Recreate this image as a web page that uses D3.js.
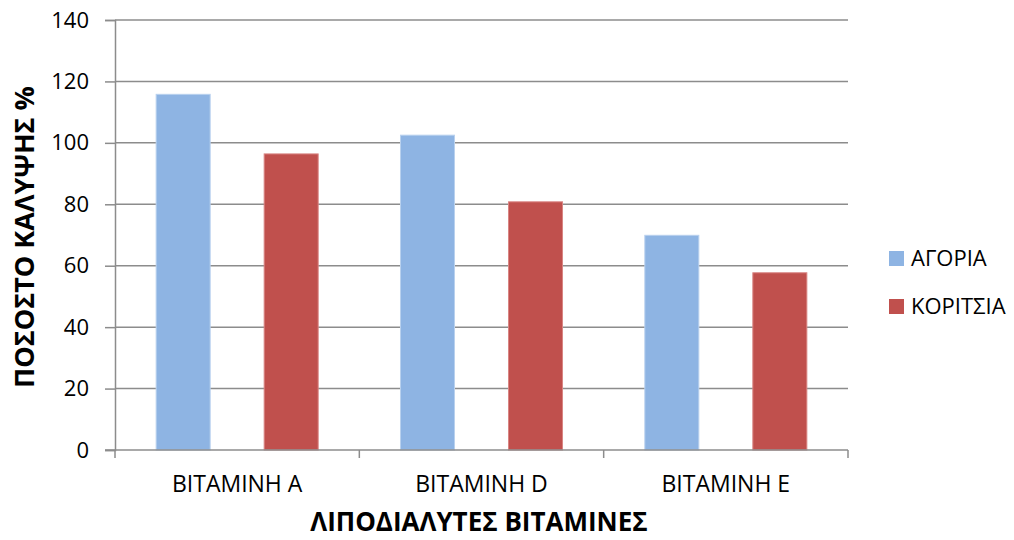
<!DOCTYPE html>
<html>
<head>
<meta charset="utf-8">
<script src="https://cdn.jsdelivr.net/npm/d3@7"></script>
<style>
  html, body { margin: 0; padding: 0; background: #fff; }
  svg text { font-family: "Open Sans", "Noto Sans", sans-serif; fill: #000; }
</style>
</head>
<body>
<svg id="chart" width="1014" height="540"></svg>
<script>
// Vitamin coverage data
const categories = ["ΒΙΤΑΜΙΝΗ Α", "ΒΙΤΑΜΙΝΗ D", "ΒΙΤΑΜΙΝΗ Ε"];
const seriesNames = ["ΑΓΟΡΙΑ", "ΚΟΡΙΤΣΙΑ"];
const boys = [115.8, 102.5, 69.9];
const girls = [96.4, 80.8, 57.7];
const yTicks = [0, 20, 40, 60, 80, 100, 120, 140];
const colors = ["#8EB4E3", "#C0504D"];
const borders = ["#B9D1EE", "#D98583"];

const series = [boys, girls];

const svg = d3.select("#chart");
const plot = { left: 115, right: 848, top: 20, bottom: 450 };

const x = d3.scaleBand().domain(categories).range([plot.left, plot.right]).padding(0);
const xInner = d3.scaleBand().domain(seriesNames).range([0, x.bandwidth()])
  .paddingInner(0.5).paddingOuter(0.381);
const y = d3.scaleLinear().domain([0, 140]).range([plot.bottom, plot.top]);

// horizontal gridlines
svg.append("g").selectAll("line").data(yTicks.filter(d => d > 0)).join("line")
  .attr("x1", plot.left).attr("x2", plot.right)
  .attr("y1", d => y(d)).attr("y2", d => y(d))
  .attr("stroke", "#8c8c8c").attr("stroke-width", 1.5);

// bars
const groups = svg.append("g").selectAll("g").data(seriesNames).join("g");
groups.each(function(name, si) {
  d3.select(this).selectAll("rect").data(series[si]).join("rect")
    .attr("x", (d, i) => x(categories[i]) + xInner(name))
    .attr("width", xInner.bandwidth())
    .attr("y", d => y(d))
    .attr("height", d => y(0) - y(d))
    .attr("fill", colors[si])
    .attr("stroke", borders[si]).attr("stroke-width", 1);
});

// y axis
const yAxis = d3.axisLeft(y).tickValues(yTicks).tickSize(10).tickPadding(16);
const gy = svg.append("g").attr("transform", `translate(${plot.left},0)`).call(yAxis);
gy.select(".domain").attr("stroke", "#8c8c8c").attr("stroke-width", 1.5);
gy.selectAll(".tick line").attr("stroke", "#8c8c8c").attr("stroke-width", 1.5);
gy.selectAll(".tick text").attr("font-size", 22).attr("font-family", "'Open Sans', sans-serif").attr("fill", "#000");

// x axis with ticks at category boundaries
const gx = svg.append("g").attr("transform", `translate(0,${plot.bottom})`);
gx.append("line").attr("x1", plot.left - 10).attr("x2", plot.right)
  .attr("stroke", "#8c8c8c").attr("stroke-width", 1.5);
const bounds = categories.map(c => x(c)).concat([plot.right]);
gx.selectAll("line.tk").data(bounds).join("line").attr("class", "tk")
  .attr("x1", d => d).attr("x2", d => d).attr("y1", 0).attr("y2", 8)
  .attr("stroke", "#8c8c8c").attr("stroke-width", 1.5);
gx.selectAll("text").data(categories).join("text")
  .attr("x", d => x(d) + x.bandwidth() / 2).attr("y", 42)
  .attr("text-anchor", "middle").attr("font-size", 23)
  .text(d => d);

// axis titles
svg.append("text").attr("x", 479).attr("y", 531)
  .attr("text-anchor", "middle").attr("font-size", 26).attr("font-weight", "bold")
  .text("ΛΙΠΟΔΙΑΛΥΤΕΣ ΒΙΤΑΜΙΝΕΣ");
svg.append("text").attr("transform", "translate(34,237) rotate(-90)")
  .attr("text-anchor", "middle").attr("font-size", 27).attr("font-weight", "bold")
  .text("ΠΟΣΟΣΤΟ ΚΑΛΥΨΗΣ %");

// legend
const legend = svg.append("g").selectAll("g").data(seriesNames).join("g")
  .attr("transform", (d, i) => `translate(889,${251 + i * 48})`);
legend.append("rect").attr("width", 15).attr("height", 15).attr("fill", (d, i) => colors[i]);
legend.append("text").attr("x", 22).attr("y", 15).attr("font-size", 22).text(d => d);
</script>
</body>
</html>
